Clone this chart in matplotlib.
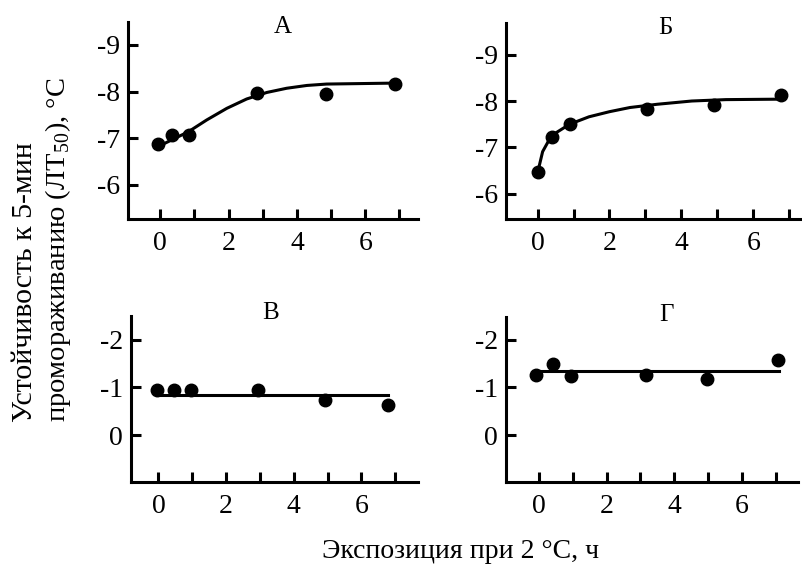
import matplotlib
matplotlib.use('Agg')
import matplotlib.pyplot as plt

plt.rcParams['font.family'] = ['Liberation Serif', 'DejaVu Serif']
plt.rcParams['mathtext.fontset'] = 'custom'
plt.rcParams['mathtext.rm'] = 'Liberation Serif'
plt.rcParams['axes.unicode_minus'] = False

# panel A - points and fitted curve
a_x = [-0.05, 0.35, 0.83, 2.84, 4.85, 6.86]
a_y = [-6.87, -7.07, -7.07, -7.97, -7.95, -8.17]
a_fit_x = [0.05, 0.83, 1.36, 1.95, 2.53, 3.12, 3.7, 4.29, 4.87, 6.82]
a_fit_y = [-6.86, -7.14, -7.39, -7.64, -7.84, -7.98, -8.07, -8.13, -8.16, -8.18]

# panel Б
b_x = [0.02, 0.40, 0.89, 3.05, 4.92, 6.78]
b_y = [-6.48, -7.22, -7.50, -7.82, -7.91, -8.12]
b_fit_x = [0.02, 0.14, 0.29, 0.48, 0.89, 1.43, 2.0, 2.57, 3.33, 4.29, 5.24, 6.81]
b_fit_y = [-6.52, -6.91, -7.12, -7.30, -7.50, -7.66, -7.77, -7.86, -7.93, -8.0, -8.03, -8.04]

# panel В
v_x = [-0.03, 0.46, 0.95, 2.94, 4.92, 6.79]
v_y = [-0.95, -0.95, -0.95, -0.95, -0.74, -0.63]
v_fit_x = [-0.03, 6.79]
v_fit_y = [-0.84, -0.84]

# panel Г
g_x = [-0.1, 0.42, 0.95, 3.17, 4.98, 7.08]
g_y = [-1.26, -1.49, -1.25, -1.26, -1.17, -1.58]
g_fit_x = [-0.15, 7.1]
g_fit_y = [-1.35, -1.35]

x_ticks = [0, 1, 2, 3, 4, 5, 6, 7]
x_labels = ['0', '', '2', '', '4', '', '6', '']
top_yticks = [-9, -8, -7, -6]
bot_yticks = [-2, -1, 0]

fig = plt.figure(figsize=(8.03, 5.66), dpi=100)

panels = [
    # rect, title, title pos, points, fit, xlim, ylim, yticks
    ([0.1594, 0.6131, 0.3611, 0.3481], 'А', (0.534, 0.975), a_x, a_y, a_fit_x, a_fit_y,
     (-0.94, 7.54), (-5.27, -9.49), top_yticks),
    ([0.6301, 0.6131, 0.3661, 0.3463], 'Б', (0.541, 0.974), b_x, b_y, b_fit_x, b_fit_y,
     (-0.88, 7.3), (-5.46, -9.68), top_yticks),
    ([0.1631, 0.1489, 0.3574, 0.2928], 'В', (0.488, 1.018), v_x, v_y, v_fit_x, v_fit_y,
     (-0.81, 7.67), (0.98, -2.5), bot_yticks),
    ([0.6301, 0.1489, 0.3636, 0.2910], 'Г', (0.551, 1.012), g_x, g_y, g_fit_x, g_fit_y,
     (-0.98, 7.66), (0.98, -2.48), bot_yticks),
]

for rect, title, tpos, px, py, fx, fy, xlim, ylim, yt in panels:
    ax = fig.add_axes(rect)
    ax.plot(fx, fy, color='black', lw=2.2, clip_on=False)
    ax.plot(px, py, 'o', color='black', ms=9, clip_on=False)
    ax.set_xlim(*xlim)
    ax.set_ylim(*ylim)
    ax.set_xticks(x_ticks)
    ax.set_xticklabels(x_labels)
    ax.set_yticks(yt)
    ax.set_yticklabels([str(t) for t in yt])
    for s in ['top', 'right']:
        ax.spines[s].set_visible(False)
    for s in ['left', 'bottom']:
        ax.spines[s].set_linewidth(2.2)
    ax.tick_params(direction='in', length=7, width=2.2, labelsize=20, pad=6)
    ax.tick_params(axis='x', pad=9)
    ax.patch.set_alpha(0)
    ax.text(tpos[0], tpos[1], title, transform=ax.transAxes, ha='center', va='center',
            fontsize=18)

# y label: two lines, both starting at the same height
fig.text(32 / 803, 1 - 422 / 566, 'Устойчивость к 5-мин', rotation=90,
         rotation_mode='anchor', ha='left', va='baseline', fontsize=21.5)
fig.text(65 / 803, 1 - 422 / 566, 'промораживанию (ЛТ$_{50}$), °С', rotation=90,
         rotation_mode='anchor', ha='left', va='baseline', fontsize=20.5)
fig.text(0.573, 0.0265, 'Экспозиция при 2 °С, ч', ha='center', va='center', fontsize=20)

fig.savefig('out.png', dpi=100)
